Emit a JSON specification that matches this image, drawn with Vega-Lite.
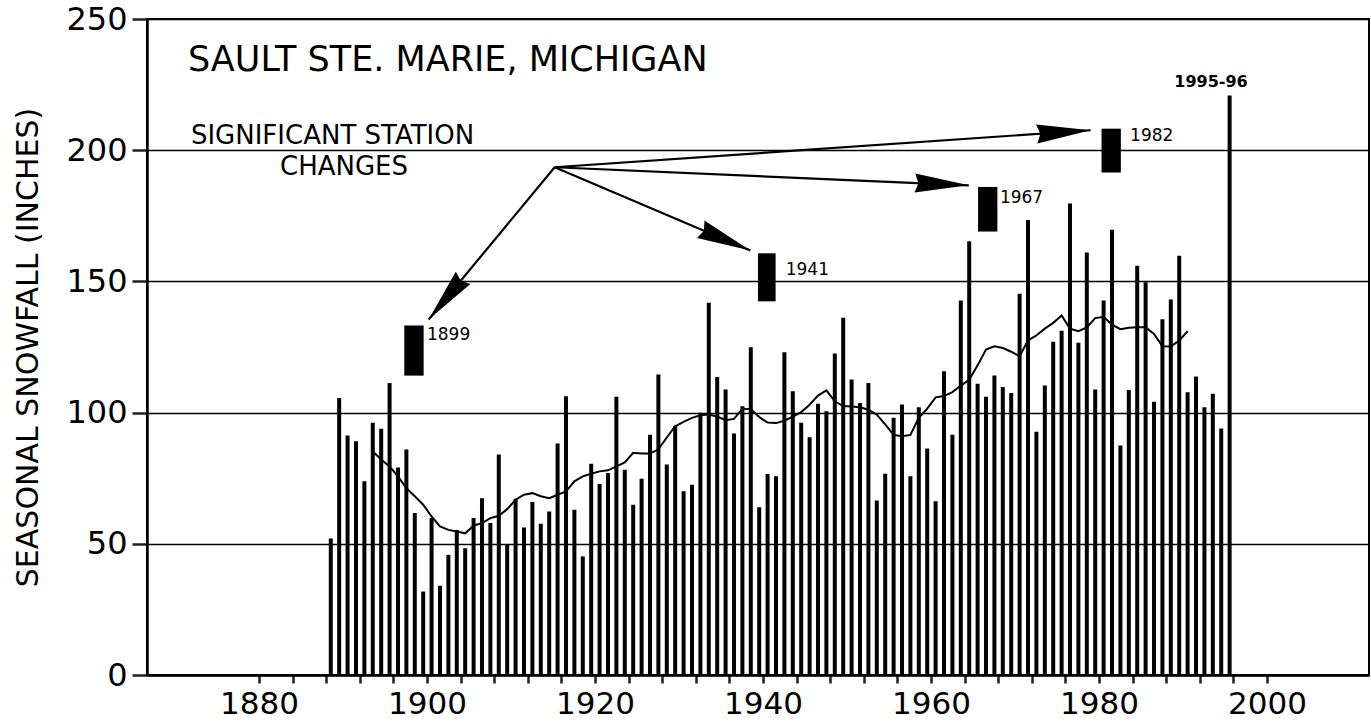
{
  "$schema": "https://vega.github.io/schema/vega-lite/v6.json",
  "width": 1222,
  "height": 656,
  "autosize": {"type": "none"},
  "padding": {"left": 147, "top": 19, "right": 2, "bottom": 50},
  "background": "white",
  "config": {
    "view": {"stroke": "black", "strokeWidth": 2},
    "font": "DejaVu Sans",
    "axis": {"ticks": true, "tickColor": "#202020", "tickOpacity": 1, "tickWidth": 2.5, "domainColor": "#000000", "domainWidth": 2.5}
  },
  "datasets": {
    "snow": [
      {"season_start":1888,"snowfall":52.0},{"season_start":1889,"snowfall":105.6},{"season_start":1890,"snowfall":91.3},{"season_start":1891,"snowfall":89.1},{"season_start":1892,"snowfall":73.8},{"season_start":1893,"snowfall":96.1},{"season_start":1894,"snowfall":93.8},{"season_start":1895,"snowfall":111.3},{"season_start":1896,"snowfall":79.1},{"season_start":1897,"snowfall":85.9},
      {"season_start":1898,"snowfall":61.7},{"season_start":1899,"snowfall":31.8},{"season_start":1900,"snowfall":59.8},{"season_start":1901,"snowfall":34.0},{"season_start":1902,"snowfall":45.8},{"season_start":1903,"snowfall":55.3},{"season_start":1904,"snowfall":48.3},{"season_start":1905,"snowfall":59.8},{"season_start":1906,"snowfall":67.4},{"season_start":1907,"snowfall":57.9},
      {"season_start":1908,"snowfall":84.0},{"season_start":1909,"snowfall":49.6},{"season_start":1910,"snowfall":67.2},{"season_start":1911,"snowfall":56.2},{"season_start":1912,"snowfall":65.9},{"season_start":1913,"snowfall":57.6},{"season_start":1914,"snowfall":62.3},{"season_start":1915,"snowfall":88.2},{"season_start":1916,"snowfall":106.2},{"season_start":1917,"snowfall":63.0},
      {"season_start":1918,"snowfall":45.2},{"season_start":1919,"snowfall":80.5},{"season_start":1920,"snowfall":72.8},{"season_start":1921,"snowfall":77.0},{"season_start":1922,"snowfall":106.0},{"season_start":1923,"snowfall":78.2},{"season_start":1924,"snowfall":64.9},{"season_start":1925,"snowfall":74.8},{"season_start":1926,"snowfall":91.6},{"season_start":1927,"snowfall":114.5},
      {"season_start":1928,"snowfall":80.2},{"season_start":1929,"snowfall":95.0},{"season_start":1930,"snowfall":70.0},{"season_start":1931,"snowfall":72.5},{"season_start":1932,"snowfall":99.9},{"season_start":1933,"snowfall":141.9},{"season_start":1934,"snowfall":113.6},{"season_start":1935,"snowfall":108.8},{"season_start":1936,"snowfall":92.0},{"season_start":1937,"snowfall":102.4},
      {"season_start":1938,"snowfall":124.9},{"season_start":1939,"snowfall":63.9},{"season_start":1940,"snowfall":76.6},{"season_start":1941,"snowfall":75.7},{"season_start":1942,"snowfall":123.0},{"season_start":1943,"snowfall":108.1},{"season_start":1944,"snowfall":96.1},{"season_start":1945,"snowfall":90.6},{"season_start":1946,"snowfall":103.4},{"season_start":1947,"snowfall":100.5},
      {"season_start":1948,"snowfall":122.5},{"season_start":1949,"snowfall":136.1},{"season_start":1950,"snowfall":112.6},{"season_start":1951,"snowfall":103.7},{"season_start":1952,"snowfall":111.3},{"season_start":1953,"snowfall":66.5},{"season_start":1954,"snowfall":76.7},{"season_start":1955,"snowfall":98.0},{"season_start":1956,"snowfall":103.1},{"season_start":1957,"snowfall":75.7},
      {"season_start":1958,"snowfall":102.0},{"season_start":1959,"snowfall":86.3},{"season_start":1960,"snowfall":66.2},{"season_start":1961,"snowfall":115.8},{"season_start":1962,"snowfall":91.6},{"season_start":1963,"snowfall":142.7},{"season_start":1964,"snowfall":165.3},{"season_start":1965,"snowfall":111.0},{"season_start":1966,"snowfall":106.0},{"season_start":1967,"snowfall":114.1},
      {"season_start":1968,"snowfall":109.8},{"season_start":1969,"snowfall":107.5},{"season_start":1970,"snowfall":145.3},{"season_start":1971,"snowfall":173.4},{"season_start":1972,"snowfall":92.7},{"season_start":1973,"snowfall":110.3},{"season_start":1974,"snowfall":127.0},{"season_start":1975,"snowfall":131.2},{"season_start":1976,"snowfall":179.7},{"season_start":1977,"snowfall":126.6},
      {"season_start":1978,"snowfall":161.0},{"season_start":1979,"snowfall":108.8},{"season_start":1980,"snowfall":142.7},{"season_start":1981,"snowfall":169.7},{"season_start":1982,"snowfall":87.5},{"season_start":1983,"snowfall":108.6},{"season_start":1984,"snowfall":156.0},{"season_start":1985,"snowfall":149.7},{"season_start":1986,"snowfall":104.1},{"season_start":1987,"snowfall":135.6},
      {"season_start":1988,"snowfall":143.1},{"season_start":1989,"snowfall":159.8},{"season_start":1990,"snowfall":107.8},{"season_start":1991,"snowfall":113.8},{"season_start":1992,"snowfall":102.0},{"season_start":1993,"snowfall":107.2},{"season_start":1994,"snowfall":93.9},{"season_start":1995,"snowfall":220.8}
    ],
    "smooth": [
      {"season_start":1893,"mean":85.2},{"season_start":1894,"mean":82.1},{"season_start":1895,"mean":79.5},{"season_start":1896,"mean":75.7},{"season_start":1897,"mean":71.2},{"season_start":1898,"mean":68.1},{"season_start":1899,"mean":64.9},{"season_start":1900,"mean":60.4},{"season_start":1901,"mean":56.6},{"season_start":1902,"mean":55.3},
      {"season_start":1903,"mean":54.7},{"season_start":1904,"mean":54.0},{"season_start":1905,"mean":56.9},{"season_start":1906,"mean":57.9},{"season_start":1907,"mean":59.8},{"season_start":1908,"mean":60.7},{"season_start":1909,"mean":63.2},{"season_start":1910,"mean":66.8},{"season_start":1911,"mean":68.7},{"season_start":1912,"mean":69.3},
      {"season_start":1913,"mean":68.1},{"season_start":1914,"mean":67.4},{"season_start":1915,"mean":68.7},{"season_start":1916,"mean":70.0},{"season_start":1917,"mean":73.8},{"season_start":1918,"mean":75.7},{"season_start":1919,"mean":76.7},{"season_start":1920,"mean":77.6},{"season_start":1921,"mean":78.0},{"season_start":1922,"mean":79.5},
      {"season_start":1923,"mean":81.0},{"season_start":1924,"mean":84.7},{"season_start":1925,"mean":84.4},{"season_start":1926,"mean":84.4},{"season_start":1927,"mean":86.0},{"season_start":1928,"mean":90.5},{"season_start":1929,"mean":94.8},{"season_start":1930,"mean":96.5},{"season_start":1931,"mean":98.0},{"season_start":1932,"mean":99.0},
      {"season_start":1933,"mean":99.3},{"season_start":1934,"mean":98.5},{"season_start":1935,"mean":97.1},{"season_start":1936,"mean":97.6},{"season_start":1937,"mean":101.5},{"season_start":1938,"mean":101.3},{"season_start":1939,"mean":98.3},{"season_start":1940,"mean":96.2},{"season_start":1941,"mean":96.0},{"season_start":1942,"mean":96.9},
      {"season_start":1943,"mean":98.5},{"season_start":1944,"mean":100.2},{"season_start":1945,"mean":103.0},{"season_start":1946,"mean":106.5},{"season_start":1947,"mean":108.5},{"season_start":1948,"mean":104.3},{"season_start":1949,"mean":102.5},{"season_start":1950,"mean":102.3},{"season_start":1951,"mean":102.0},{"season_start":1952,"mean":101.1},
      {"season_start":1953,"mean":99.2},{"season_start":1954,"mean":95.5},{"season_start":1955,"mean":91.5},{"season_start":1956,"mean":91.0},{"season_start":1957,"mean":91.5},{"season_start":1958,"mean":98.0},{"season_start":1959,"mean":101.5},{"season_start":1960,"mean":105.8},{"season_start":1961,"mean":106.3},{"season_start":1962,"mean":107.8},
      {"season_start":1963,"mean":110.3},{"season_start":1964,"mean":112.5},{"season_start":1965,"mean":118.0},{"season_start":1966,"mean":124.0},{"season_start":1967,"mean":125.3},{"season_start":1968,"mean":124.6},{"season_start":1969,"mean":123.2},{"season_start":1970,"mean":121.5},{"season_start":1971,"mean":127.5},{"season_start":1972,"mean":129.4},
      {"season_start":1973,"mean":132.0},{"season_start":1974,"mean":134.2},{"season_start":1975,"mean":137.0},{"season_start":1976,"mean":132.0},{"season_start":1977,"mean":131.0},{"season_start":1978,"mean":132.5},{"season_start":1979,"mean":136.0},{"season_start":1980,"mean":136.5},{"season_start":1981,"mean":133.5},{"season_start":1982,"mean":131.8},
      {"season_start":1983,"mean":132.3},{"season_start":1984,"mean":132.5},{"season_start":1985,"mean":132.5},{"season_start":1986,"mean":130.0},{"season_start":1987,"mean":125.3},{"season_start":1988,"mean":125.2},{"season_start":1989,"mean":127.5},{"season_start":1990,"mean":131.0}
    ],
    "markers": [
      {"change":"1899","x_start":1897.3,"x_end":1899.6,"low":114.1,"high":133.2},
      {"change":"1941","x_start":1939.4,"x_end":1941.5,"low":142.4,"high":160.7},
      {"change":"1967","x_start":1965.6,"x_end":1967.9,"low":169.0,"high":186.0},
      {"change":"1982","x_start":1980.3,"x_end":1982.6,"low":191.5,"high":208.2}
    ],
    "arrows": [
      {"change":"1899","from_x":1915.2,"from_y":193.5,"to_x":1900.2,"to_y":135.5},
      {"change":"1941","from_x":1915.2,"from_y":193.5,"to_x":1938.5,"to_y":161.8},
      {"change":"1967","from_x":1915.2,"from_y":193.5,"to_x":1964.5,"to_y":186.6},
      {"change":"1982","from_x":1915.2,"from_y":193.5,"to_x":1979.0,"to_y":207.6}
    ],
    "change_labels": [
      {"text":"1899","x":1900.0,"y":129.6},
      {"text":"1941","x":1942.7,"y":154.3},
      {"text":"1967","x":1968.2,"y":181.8},
      {"text":"1982","x":1983.7,"y":205.4}
    ],
    "title_text": [{"text":"SAULT STE. MARIE, MICHIGAN","x":1871.55,"y":230.2}],
    "note_text": [
      {"text":"SIGNIFICANT STATION","x":1871.9,"y":202.5},
      {"text":"CHANGES","x":1882.5,"y":190.5}
    ],
    "record_text": [{"text":"1995-96","x":1993.33,"y":226.0}]
  },
  "layer": [
    {
      "data": {"name": "snow"},
      "mark": {"type": "rule", "strokeWidth": 4, "color": "black", "xOffset": 4.6},
      "encoding": {
        "x": {"field": "season_start", "type": "quantitative",
          "scale": {"domain": [1866.67, 2012.14], "nice": false, "zero": false},
          "axis": {
            "title": null,
            "values": [1880,1881,1882,1883,1884,1885,1886,1887,1888,1889,1890,1891,1892,1893,1894,1895,1896,1897,1898,1899,1900,1901,1902,1903,1904,1905,1906,1907,1908,1909,1910,1911,1912,1913,1914,1915,1916,1917,1918,1919,1920,1921,1922,1923,1924,1925,1926,1927,1928,1929,1930,1931,1932,1933,1934,1935,1936,1937,1938,1939,1940,1941,1942,1943,1944,1945,1946,1947,1948,1949,1950,1951,1952,1953,1954,1955,1956,1957,1958,1959,1960,1961,1962,1963,1964,1965,1966,1967,1968,1969,1970,1971,1972,1973,1974,1975,1976,1977,1978,1979,1980,1981,1982,1983,1984,1985,1986,1987,1988,1989,1990,1991,1992,1993,1994,1995,1996,1997,1998,1999,2000],
            "labelExpr": "datum.value % 20 == 0 ? format(datum.value, 'd') : ''",
            "labelOverlap": false,
            "labelFlush": false,
            "labelFont": "DejaVu Sans",
            "labelFontSize": 31,
            "labelColor": "black",
            "labelPadding": 6,
            "tickSize": 8,
            "grid": false
          }
        },
        "y": {"field": "snowfall", "type": "quantitative",
          "scale": {"domain": [0, 250], "nice": false},
          "axis": {
            "title": "SEASONAL SNOWFALL (INCHES)",
            "titleFont": "DejaVu Sans",
            "titleFontSize": 30,
            "titleFontWeight": "normal",
            "titleColor": "black",
            "titlePadding": 22,
            "values": [0, 50, 100, 150, 200, 250],
            "labelFont": "DejaVu Sans",
            "labelFontSize": 32,
            "labelColor": "black",
            "labelPadding": 5,
            "tickSize": 15,
            "grid": true,
            "gridColor": "black",
            "gridWidth": 1.5,
            "gridOpacity": 1
          }
        },
        "y2": {"datum": 0}
      }
    },
    {
      "data": {"name": "smooth"},
      "mark": {"type": "line", "color": "black", "strokeWidth": 2, "xOffset": 4.6},
      "encoding": {
        "x": {"field": "season_start", "type": "quantitative", "scale": {"domain": [1866.67, 2012.14], "nice": false, "zero": false}},
        "y": {"field": "mean", "type": "quantitative", "scale": {"domain": [0, 250], "nice": false}}
      }
    },
    {
      "data": {"name": "markers"},
      "mark": {"type": "rect", "color": "black"},
      "encoding": {
        "x": {"field": "x_start", "type": "quantitative", "scale": {"domain": [1866.67, 2012.14], "nice": false, "zero": false}},
        "x2": {"field": "x_end"},
        "y": {"field": "low", "type": "quantitative", "scale": {"domain": [0, 250], "nice": false}},
        "y2": {"field": "high"}
      }
    },
    {
      "data": {"name": "arrows"},
      "mark": {"type": "rule", "color": "black", "strokeWidth": 2.2},
      "encoding": {
        "x": {"field": "from_x", "type": "quantitative", "scale": {"domain": [1866.67, 2012.14], "nice": false, "zero": false}},
        "x2": {"field": "to_x"},
        "y": {"field": "from_y", "type": "quantitative", "scale": {"domain": [0, 250], "nice": false}},
        "y2": {"field": "to_y"}
      }
    },
    {
      "data": {"name": "arrows"},
      "transform": [
        {"calculate": "atan2(-(datum.to_y - datum.from_y) * 2.624, (datum.to_x - datum.from_x) * 8.4) * 180 / PI", "as": "heading"}
      ],
      "mark": {"type": "point", "shape": "M0,0 L-6,-1.05 L-5.6,0 L-6,1.05 Z", "size": 324, "filled": true, "color": "black", "opacity": 1, "strokeWidth": 0},
      "encoding": {
        "x": {"field": "to_x", "type": "quantitative", "scale": {"domain": [1866.67, 2012.14], "nice": false, "zero": false}},
        "y": {"field": "to_y", "type": "quantitative", "scale": {"domain": [0, 250], "nice": false}},
        "angle": {"field": "heading", "type": "quantitative", "scale": null}
      }
    },
    {
      "data": {"name": "change_labels"},
      "mark": {"type": "text", "align": "left", "baseline": "middle", "font": "DejaVu Sans", "fontSize": 17, "color": "black"},
      "encoding": {
        "x": {"field": "x", "type": "quantitative", "scale": {"domain": [1866.67, 2012.14], "nice": false, "zero": false}},
        "y": {"field": "y", "type": "quantitative", "scale": {"domain": [0, 250], "nice": false}},
        "text": {"field": "text"}
      }
    },
    {
      "data": {"name": "title_text"},
      "mark": {"type": "text", "align": "left", "baseline": "alphabetic", "font": "DejaVu Sans", "fontSize": 35, "color": "black"},
      "encoding": {
        "x": {"field": "x", "type": "quantitative", "scale": {"domain": [1866.67, 2012.14], "nice": false, "zero": false}},
        "y": {"field": "y", "type": "quantitative", "scale": {"domain": [0, 250], "nice": false}},
        "text": {"field": "text"}
      }
    },
    {
      "data": {"name": "note_text"},
      "mark": {"type": "text", "align": "left", "baseline": "alphabetic", "font": "DejaVu Sans", "fontSize": 26, "color": "black"},
      "encoding": {
        "x": {"field": "x", "type": "quantitative", "scale": {"domain": [1866.67, 2012.14], "nice": false, "zero": false}},
        "y": {"field": "y", "type": "quantitative", "scale": {"domain": [0, 250], "nice": false}},
        "text": {"field": "text"}
      }
    },
    {
      "data": {"name": "record_text"},
      "mark": {"type": "text", "align": "center", "baseline": "middle", "font": "DejaVu Sans", "fontSize": 16, "fontWeight": "bold", "color": "black"},
      "encoding": {
        "x": {"field": "x", "type": "quantitative", "scale": {"domain": [1866.67, 2012.14], "nice": false, "zero": false}},
        "y": {"field": "y", "type": "quantitative", "scale": {"domain": [0, 250], "nice": false}},
        "text": {"field": "text"}
      }
    }
  ]
}
